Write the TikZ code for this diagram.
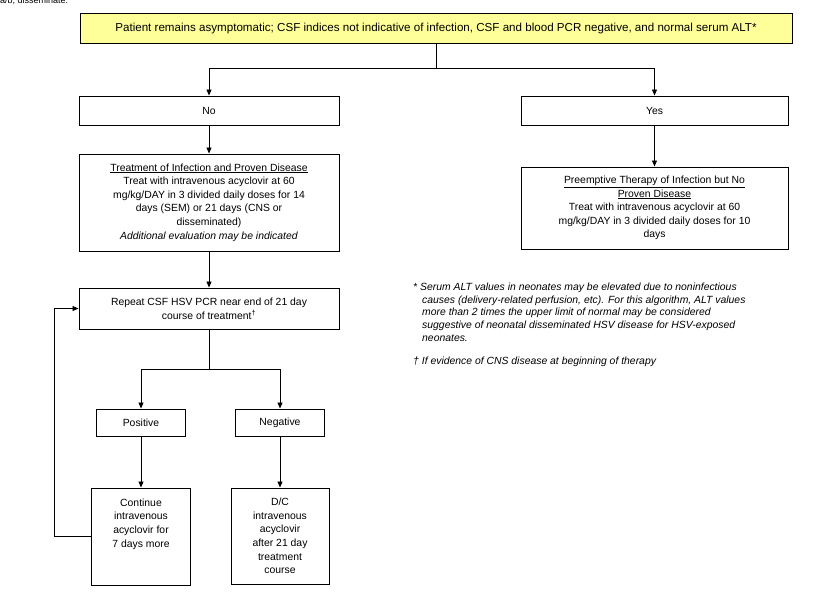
\documentclass[tikz,border=0pt]{standalone}
\usepackage{fontspec}
\setmainfont{Liberation Sans}
\usetikzlibrary{arrows.meta}
\definecolor{boxyellow}{HTML}{FFFF99}
\begin{document}
\begin{tikzpicture}[x=1pt,y=-1pt,
  box/.style={draw=black,line width=1pt,rectangle,align=center,inner sep=2pt,font=\fontsize{10.4}{13.6}\selectfont},
  conn/.style={draw=black,line width=0.9pt},
  arr/.style={conn,-{Triangle[length=6pt,width=5pt]}},
  note/.style={align=left,anchor=north west,inner sep=0pt,font=\fontsize{10.4}{12.6}\selectfont\itshape}]
\useasboundingbox[fill=white] (0,0) rectangle (834,598);
\node[anchor=base west,inner sep=0pt,font=\fontsize{9}{11}\selectfont] (cut) at (0,3) {a/b, disseminate.};
\node[box,fill=boxyellow,minimum width=712pt,minimum height=30pt,font=\fontsize{11.6}{13.6}\selectfont] (top) at (436,28)
  {Patient remains asymptomatic; CSF indices not indicative of infection, CSF and blood PCR negative, and normal serum ALT*};
\node[box,minimum width=260pt,minimum height=29pt] (no) at (209,110.5) {No};
\node[box,minimum width=267pt,minimum height=29pt] (yes) at (654.5,110.5) {Yes};
\node[box,minimum width=260pt,minimum height=97pt] (treat) at (209,202.5)
  {\underline{Treatment of Infection and Proven Disease}\\
   Treat with intravenous acyclovir at 60\\
   mg/kg/DAY in 3 divided daily doses for 14\\
   days (SEM) or 21 days (CNS or\\
   disseminated)\\
   \textit{Additional evaluation may be indicated}};
\node[box,minimum width=267pt,minimum height=82pt] (pre) at (654.5,208)
  {\underline{Preemptive Therapy of Infection but No}\\
   \underline{Proven Disease}\\
   Treat with intravenous acyclovir at 60\\
   mg/kg/DAY in 3 divided daily doses for 10\\
   days};
\node[box,minimum width=260pt,minimum height=41pt] (rep) at (209,308.5)
  {Repeat CSF HSV PCR near end of 21 day\\ course of treatment\textsuperscript{\dag}};
\node[box,minimum width=89pt,minimum height=27pt] (pos) at (141,422.5) {Positive};
\node[box,minimum width=89pt,minimum height=27pt] (neg) at (280,422.5) {Negative};
\node[box,minimum width=99pt,minimum height=97pt] (cont) at (141,536.5)
  {Continue\\ intravenous\\ acyclovir for\\ 7 days more\\ \mbox{}\\ \mbox{}};
\node[box,minimum width=98pt,minimum height=96pt] (dc) at (280,536)
  {D/C\\ intravenous\\ acyclovir\\ after 21 day\\ treatment\\ course};
\coordinate (j1) at (436,68);
\coordinate (j2) at (209,369);
\coordinate (fb) at (54,536);
\draw[conn] (top.south) -- (j1);
\draw[arr] (j1) -| (no.north);
\draw[arr] (j1) -| (yes.north);
\draw[arr] (no.south) -- (treat.north);
\draw[arr] (yes.south) -- (pre.north);
\draw[arr] (treat.south) -- (rep.north);
\draw[conn] (rep.south) -- (j2);
\draw[arr] (j2) -| (pos.north);
\draw[arr] (j2) -| (neg.north);
\draw[arr] (pos.south) -- (cont.north);
\draw[arr] (neg.south) -- (dc.north);
\draw[arr] (cont.west |- fb) -- (fb) |- (rep.west);
\node[note] (fn1) at (413,283)
  {* Serum ALT values in neonates may be elevated due to noninfectious\\
   \hspace*{9pt}causes (delivery-related perfusion, etc). For this algorithm, ALT values\\
   \hspace*{9pt}more than 2 times the upper limit of normal may be considered\\
   \hspace*{9pt}suggestive of neonatal disseminated HSV disease for HSV-exposed\\
   \hspace*{9pt}neonates.};
\node[note] (fn2) at (413,357) {\dag\ If evidence of CNS disease at beginning of therapy};
\end{tikzpicture}
\end{document}
